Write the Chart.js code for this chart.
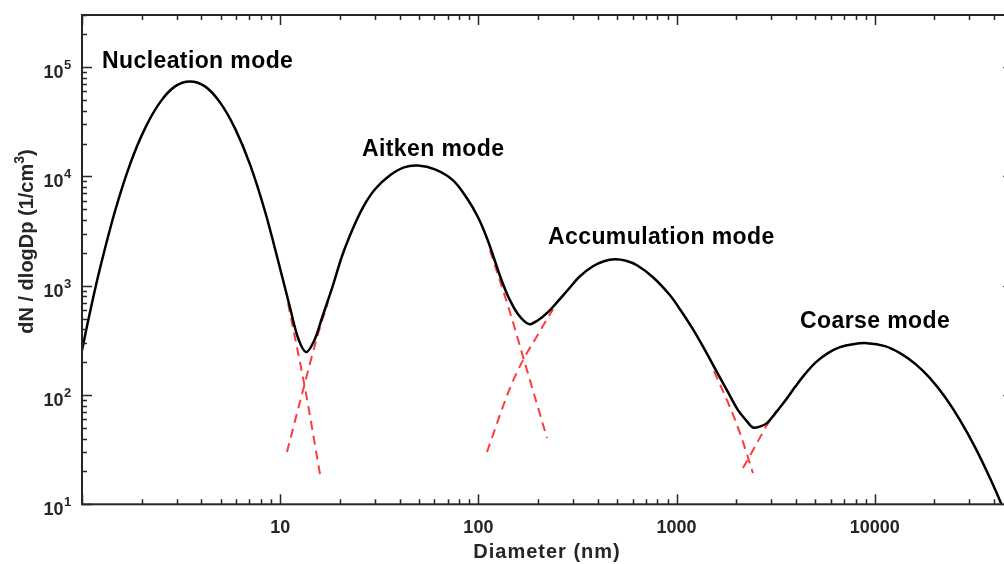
<!DOCTYPE html>
<html>
<head>
<meta charset="utf-8">
<script src="https://cdn.jsdelivr.net/npm/chart.js@4"></script>
<style>
  html, body { margin: 0; padding: 0; background: #fff; overflow: hidden; }
  #wrap { width: 1004px; height: 564px; overflow: hidden; position: relative; }
  canvas { display: block; }
</style>
</head>
<body>
<div id="wrap"><canvas id="psd" width="1016" height="564"></canvas></div>
<script>
// Total number size distribution (sum of the four modes)
const diameter = [
  1, 1.097, 1.233, 1.467, 1.747, 2.079, 2.475, 2.946, 3.507, 4.174, 4.97, 5.915,
  7.04, 8.38, 9.98, 11.2, 12.3, 13.5, 14.81, 16.25, 18.47, 20.5, 23.3, 26.17,
  30.08, 35.81, 42.14, 49.58, 60.4, 74.5, 87.6, 99.54, 110.5, 121.3, 131.5, 142.7,
  158.5, 180, 199.8, 224.5, 252.1, 283.2, 325.5, 378.6, 430.2, 488.9, 555.6, 631.3,
  760.3, 926.1, 1040, 1209, 1391, 1599, 1817, 2041, 2239, 2429, 2672, 2858,
  3211, 3524, 3958, 4445, 5051, 5805, 6674, 7762, 9133, 11260, 13400, 15950,
  18990, 22610, 26910, 32030, 38130, 44360, 49250
];
const dNdlogDp = [
  257, 573, 1445, 4800, 12900, 27500, 47600, 66700, 74000, 66700, 47600, 27500,
  12900, 4800, 1445, 636, 333, 247, 312, 507, 1011, 1861, 3354, 5219,
  7623, 10230, 12110, 12590, 11590, 9210, 6306, 4227, 2718, 1675, 1099, 768.6,
  549, 445, 483.7, 572.6, 721.8, 919, 1221, 1507, 1675, 1747, 1692, 1539,
  1196, 818.9, 609.9, 400.4, 257.3, 161.9, 106.3, 72.8, 58.96, 50.4, 51.96, 55.4,
  71.26, 87.93, 118.1, 155.2, 199.8, 241.5, 274.1, 292, 298, 279.9, 241.5, 193.6,
  142.7, 95.7, 58.96, 33.4, 17.4, 9.25, 5.58
];

// Single-mode tails continued through the minima
const nucTailD = [10.95, 13.34, 15.88];
const nucTailN = [692, 115.6, 18.9];
const aitRiseD = [10.82, 12.88, 15.51, 17.42];
const aitRiseN = [30.1, 102, 360, 707];
const aitTailD = [114.4, 144.3, 166.0, 221.9];
const aitTailN = [2111, 572.6, 241.5, 40.4];
const accRiseD = [110.5, 144.3, 167.9, 197.5, 237.9];
const accRiseN = [30.1, 115.6, 208.4, 345.5, 610];
const accTailD = [1544, 1859, 2089, 2429];
const accTailN = [165.4, 77.5, 44.8, 19.3];
const crsRiseD = [2163, 2544, 2858, 3249, 3734];
const crsRiseN = [21.5, 36.3, 53.1, 72.8, 102];

const xTicks = [10, 100, 1000, 10000];
const yExponents = [1, 2, 3, 4, 5];
const modeNames = ["Nucleation mode", "Aitken mode", "Accumulation mode", "Coarse mode"];
const modeSpots = [[102, 68], [362, 156], [548, 244], [800, 328]];

const FONT = "'Liberation Sans', Arial, Helvetica, sans-serif";
const AXIS = "#262626";

const pts = (xs, ys) => xs.map((x, i) => ({ x, y: ys[i] }));

function tail(xs, ys) {
  return {
    data: pts(xs, ys),
    borderColor: "#ff3c3c",
    borderWidth: 2,
    borderDash: [9, 6],
    pointRadius: 0,
    cubicInterpolationMode: "monotone",
  };
}

// box, inward ticks, tick labels, titles and mode names
const frame = {
  id: "frame",
  afterDraw(chart) {
    const { ctx, chartArea: a, scales: { x, y } } = chart;
    ctx.save();

    ctx.strokeStyle = AXIS;
    ctx.lineWidth = 2;
    ctx.strokeRect(a.left, a.top, a.right - a.left, a.bottom - a.top);

    ctx.lineWidth = 1.5;
    ctx.beginPath();
    for (let k = 0; k <= 4; k++) {
      for (let m = 1; m <= 9; m++) {
        const v = m * Math.pow(10, k);
        if (v > x.max) break;
        const len = m === 1 ? 10 : 5;
        const px = Math.round(x.getPixelForValue(v)) + 0.5;
        ctx.moveTo(px, a.bottom); ctx.lineTo(px, a.bottom - len);
        ctx.moveTo(px, a.top); ctx.lineTo(px, a.top + len);
      }
    }
    for (let k = 1; k <= 5; k++) {
      for (let m = 1; m <= 9; m++) {
        const v = m * Math.pow(10, k);
        if (v > y.max) break;
        const len = m === 1 ? 10 : 5;
        const py = Math.round(y.getPixelForValue(v)) + 0.5;
        ctx.moveTo(a.left, py); ctx.lineTo(a.left + len, py);
        ctx.moveTo(a.right, py); ctx.lineTo(a.right - len, py);
      }
    }
    ctx.stroke();

    ctx.fillStyle = AXIS;
    ctx.textBaseline = "alphabetic";
    ctx.font = `bold 18px ${FONT}`;
    ctx.textAlign = "center";
    xTicks.forEach((v) => ctx.fillText(String(v), x.getPixelForValue(v), 533));

    yExponents.forEach((e) => {
      const py = y.getPixelForValue(Math.pow(10, e));
      ctx.font = `bold 18px ${FONT}`;
      ctx.textAlign = "right";
      ctx.fillText("10", 63.5, py + 11);
      ctx.font = `bold 13px ${FONT}`;
      ctx.textAlign = "left";
      ctx.fillText(String(e), 64, py + 2);
    });

    // axis titles
    ctx.textAlign = "center";
    ctx.font = `bold 20px ${FONT}`;
    ctx.letterSpacing = "1px";
    ctx.fillText("Diameter (nm)", 547, 558);
    ctx.letterSpacing = "0px";

    ctx.save();
    ctx.translate(33, 241.5);
    ctx.rotate(-Math.PI / 2);
    ctx.textAlign = "left";
    const main = "dN / dlogDp (1/cm";
    ctx.font = `bold 20px ${FONT}`;
    const w1 = ctx.measureText(main).width;
    const w3 = ctx.measureText(")").width;
    ctx.font = `bold 14px ${FONT}`;
    const w2 = ctx.measureText("3").width;
    let x0 = -(w1 + w2 + w3) / 2;
    ctx.font = `bold 20px ${FONT}`;
    ctx.fillText(main, x0, 0);
    ctx.font = `bold 14px ${FONT}`;
    ctx.fillText("3", x0 + w1, -9);
    ctx.font = `bold 20px ${FONT}`;
    ctx.fillText(")", x0 + w1 + w2, 0);
    ctx.restore();

    // mode names
    ctx.fillStyle = "#000";
    ctx.textAlign = "left";
    ctx.font = `bold 23px ${FONT}`;
    ctx.letterSpacing = "0.4px";
    modeNames.forEach((t, i) => ctx.fillText(t, modeSpots[i][0], modeSpots[i][1]));
    ctx.letterSpacing = "0px";

    ctx.restore();
  },
};

new Chart(document.getElementById("psd").getContext("2d"), {
  type: "line",
  data: {
    datasets: [
      {
        data: pts(diameter, dNdlogDp),
        borderColor: "#000",
        borderWidth: 2.5,
        pointRadius: 0,
        tension: 0.35,
      },
      tail(nucTailD, nucTailN),
      tail(aitRiseD, aitRiseN),
      tail(aitTailD, aitTailN),
      tail(accRiseD, accRiseN),
      tail(accTailD, accTailN),
      tail(crsRiseD, crsRiseN),
    ],
  },
  options: {
    responsive: false,
    animation: false,
    layout: { padding: { left: 82, top: 15, right: 2.7, bottom: 59.7 } },
    plugins: { legend: { display: false }, tooltip: { enabled: false } },
    scales: {
      x: { type: "logarithmic", min: 1, max: 50000, display: false },
      y: { type: "logarithmic", min: 10, max: 300000, display: false },
    },
  },
  plugins: [frame],
});
</script>
</body>
</html>
